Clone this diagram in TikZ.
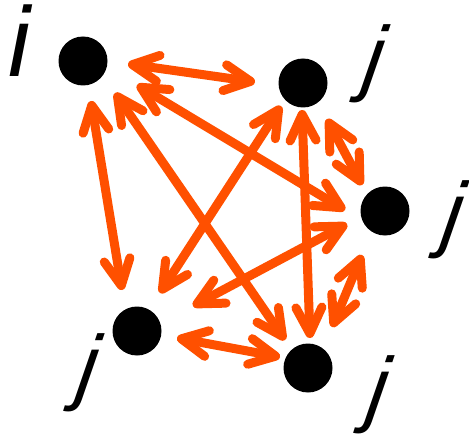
\documentclass[tikz,border=0pt]{standalone}
\usepackage{fontspec}
\setmainfont{Liberation Sans}
\usetikzlibrary{arrows.meta,calc}
\definecolor{arrowc}{RGB}{255,80,0}
\tikzset{
  dot/.style={circle, fill=black, draw=none, minimum size=49pt, inner sep=0pt},
  lab/.style={inner sep=0pt, font=\fontsize{99}{99}\selectfont\itshape, anchor=base west},
  jlab/.style={inner sep=0pt, font=\fontsize{84}{84}\selectfont\itshape, anchor=base west, transform shape, xslant=0.15},
  tipb/.tip={Straight Barb[length=26pt,width=26pt,round]},
  arr/.style={line width=9pt, draw=arrowc, tipb-tipb}
}
\begin{document}
\begin{tikzpicture}[x=1pt,y=-1pt]
\useasboundingbox (0,0) rectangle (469,436);
\node[dot] (i) at (83,61) {};
\node[dot] (j1) at (303,83) {};
\node[dot] (j2) at (385,211) {};
\node[dot] (j3) at (308,368) {};
\node[dot] (j4) at (137,331) {};
\node[lab] (li) at (8,77) {i};
\node[jlab] (lj1) at (361,86) {j};
\node[jlab] (lj2) at (440,241) {j};
\node[jlab] (lj3) at (365,416) {j};
\node[jlab] (lj4) at (75,394) {j};
\draw[arr] ($(i)+(45,3)$) -- ($(j1)+(-48,-1)$);
\draw[arr] ($(i)+(54,24)$) -- ($(j2)+(-40,-1)$);
\draw[arr] ($(i)+(32,32)$) -- ($(j3)+(-23,-28)$);
\draw[arr] ($(i)+(8,40)$) -- ($(j4)+(-15,-41)$);
\draw[arr] ($(j1)+(24,36)$) -- ($(j2)+(-23,-26)$);
\draw[arr] ($(j1)+(-1,27)$) -- ($(j3)+(2,-30)$);
\draw[arr] ($(j1)+(-22,23)$) -- ($(j4)+(23,-38)$);
\draw[arr] ($(j2)+(-23,44)$) -- ($(j3)+(24,-41)$);
\draw[arr] ($(j2)+(-38,13)$) -- ($(j4)+(56,-25)$);
\draw[arr] ($(j3)+(-28,-11)$) -- ($(j4)+(40,7)$);
\end{tikzpicture}
\end{document}
